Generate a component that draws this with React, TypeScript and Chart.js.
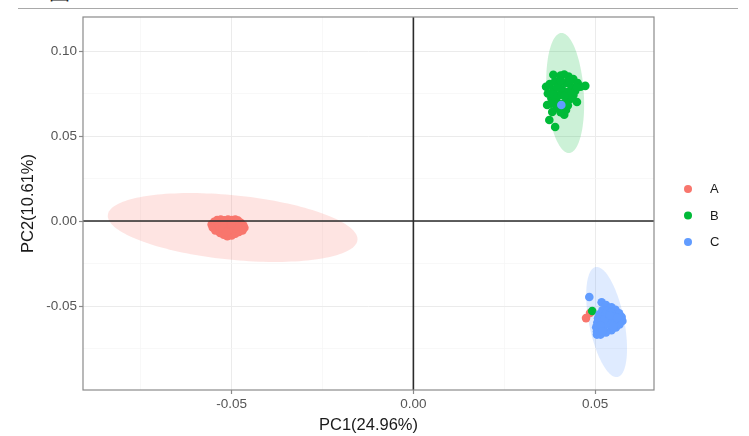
import React, { useEffect, useRef } from 'react';
import { Chart, registerables } from 'chart.js';

Chart.register(...registerables);

// ---- data ----
const groups = ['A', 'B', 'C'];
const groupColors = ['#F8766D', '#00BA38', '#619CFF'];

const aX = [-0.0555, -0.0548, -0.054, -0.053, -0.052, -0.051, -0.05, -0.049, -0.0482, -0.0475, -0.0468, -0.0465, -0.047, -0.048, -0.049, -0.05, -0.0512, -0.0522, -0.0532, -0.0545, -0.0552, -0.0535, -0.052, -0.0505, -0.0495, -0.051, -0.0525, -0.0485, -0.05, -0.0515, 0.0475, 0.0486];
const aY = [-0.002, -0.0005, 0.0005, 0.0008, 0.0004, 0.0009, 0.0006, 0.0008, 0.0002, -0.001, -0.0025, -0.004, -0.0055, -0.0065, -0.0075, -0.0085, -0.009, -0.008, -0.007, -0.0055, -0.0038, -0.003, -0.002, -0.003, -0.0045, -0.0055, -0.0045, -0.003, -0.0015, -0.0065, -0.0571, -0.0541];

const bX = [0.0385, 0.0405, 0.0415, 0.0427, 0.044, 0.0452, 0.0473, 0.046, 0.0365, 0.0375, 0.039, 0.04, 0.042, 0.0435, 0.0445, 0.044, 0.0432, 0.042, 0.041, 0.0395, 0.038, 0.037, 0.0385, 0.041, 0.0425, 0.04, 0.0368, 0.0382, 0.0374, 0.039, 0.042, 0.045, 0.0395, 0.0415, 0.0405, 0.0395, 0.0405, 0.043, 0.045, 0.0415, 0.0385, 0.0425, 0.038, 0.0492];
const bY = [0.086, 0.0855, 0.0862, 0.085, 0.0835, 0.0812, 0.0795, 0.079, 0.079, 0.0805, 0.0822, 0.08, 0.0812, 0.079, 0.0765, 0.074, 0.0718, 0.07, 0.0688, 0.07, 0.0722, 0.075, 0.077, 0.077, 0.0758, 0.074, 0.0682, 0.0641, 0.0594, 0.0553, 0.0653, 0.07, 0.0665, 0.0625, 0.064, 0.0785, 0.0825, 0.0825, 0.0785, 0.0735, 0.0745, 0.068, 0.069, -0.0529];

const cX = [0.0484, 0.0407, 0.0518, 0.053, 0.0545, 0.0556, 0.0566, 0.0573, 0.0575, 0.0567, 0.0557, 0.0545, 0.053, 0.0515, 0.0505, 0.0503, 0.0506, 0.0508, 0.0512, 0.052, 0.0528, 0.0537, 0.0548, 0.0542, 0.0526, 0.0518, 0.0552, 0.0533, 0.0543, 0.0522, 0.0505, 0.0535, 0.055, 0.056, 0.0525, 0.0515, 0.054, 0.052];
const cY = [-0.0447, 0.0682, -0.0478, -0.0495, -0.0508, -0.0522, -0.0543, -0.0565, -0.0588, -0.0608, -0.0626, -0.0642, -0.0655, -0.0668, -0.065, -0.0625, -0.0598, -0.0572, -0.0548, -0.0525, -0.0556, -0.0577, -0.056, -0.0602, -0.0612, -0.059, -0.0587, -0.053, -0.0538, -0.0636, -0.0668, -0.0605, -0.062, -0.057, -0.058, -0.0615, -0.0555, -0.065];

// confidence ellipses (data units): centre, major semi-axis vector, minor semi-axis vector
const ellipseCenterX = [-0.04973, 0.04176, 0.05316];
const ellipseCenterY = [-0.00382, 0.07529, -0.05941];
const ellipseMajorX = [0.03434, -0.0011, -0.00302];
const ellipseMajorY = [-0.00735, 0.0353, 0.03235];
const ellipseMinorX = [-0.00088, 0.0051, 0.00474];
const ellipseMinorY = [-0.01888, 0.00073, 0.00203];

const xRange = [-0.0909, 0.0662];
const yRange = [-0.0994, 0.12];
const xTickValues = [-0.075, -0.05, -0.025, 0, 0.025, 0.05];
const xTickLabels = ['', '-0.05', '', '0.00', '', '0.05'];
const yTickValues = [-0.075, -0.05, -0.025, 0, 0.025, 0.05, 0.075, 0.1];
const yTickLabels = ['', '-0.05', '', '0.00', '', '0.05', '', '0.10'];
const xTitle = 'PC1(24.96%)';
const yTitle = 'PC2(10.61%)';

const seriesX = [aX, bX, cX];
const seriesY = [aY, bY, cY];

const FONT = "'Liberation Sans', Arial, Helvetica, sans-serif";

function hexA(hex: string, a: number) {
  const n = parseInt(hex.slice(1), 16);
  return `rgba(${(n >> 16) & 255},${(n >> 8) & 255},${n & 255},${a})`;
}

const ellipsePlugin = {
  id: 'ellipses',
  beforeDatasetsDraw(chart: any) {
    const { ctx, chartArea, scales } = chart;
    const xs = scales.x, ys = scales.y;
    ctx.save();
    ctx.beginPath();
    ctx.rect(chartArea.left, chartArea.top, chartArea.right - chartArea.left, chartArea.bottom - chartArea.top);
    ctx.clip();
    for (let i = 0; i < groups.length; i++) {
      ctx.beginPath();
      const N = 160;
      for (let k = 0; k <= N; k++) {
        const t = (k / N) * Math.PI * 2;
        const vx = ellipseCenterX[i] + ellipseMajorX[i] * Math.cos(t) + ellipseMinorX[i] * Math.sin(t);
        const vy = ellipseCenterY[i] + ellipseMajorY[i] * Math.cos(t) + ellipseMinorY[i] * Math.sin(t);
        const px = xs.getPixelForValue(vx);
        const py = ys.getPixelForValue(vy);
        if (k === 0) ctx.moveTo(px, py); else ctx.lineTo(px, py);
      }
      ctx.closePath();
      ctx.fillStyle = hexA(groupColors[i], 0.2);
      ctx.fill();
    }
    ctx.restore();
  },
  afterDatasetsDraw(chart: any) {
    const { ctx, chartArea, scales } = chart;
    const x0 = scales.x.getPixelForValue(0);
    const y0 = scales.y.getPixelForValue(0);
    ctx.save();
    ctx.strokeStyle = '#2b2b2b';
    ctx.lineWidth = 1.6;
    ctx.beginPath();
    ctx.moveTo(chartArea.left, y0);
    ctx.lineTo(chartArea.right, y0);
    ctx.moveTo(x0, chartArea.top);
    ctx.lineTo(x0, chartArea.bottom);
    ctx.stroke();
    ctx.strokeStyle = '#8a8a8a';
    ctx.lineWidth = 1.2;
    ctx.strokeRect(chartArea.left, chartArea.top, chartArea.right - chartArea.left, chartArea.bottom - chartArea.top);
    // legend
    const lx = chartArea.right + 34;
    const ly = 189;
    ctx.font = `13px ${FONT}`;
    ctx.textBaseline = 'middle';
    ctx.textAlign = 'left';
    chart.data.datasets.forEach((ds: any, i: number) => {
      const y = ly + i * 26.5;
      ctx.beginPath();
      ctx.arc(lx, y, 4, 0, Math.PI * 2);
      ctx.fillStyle = ds.backgroundColor;
      ctx.fill();
      ctx.fillStyle = '#1a1a1a';
      ctx.fillText(ds.label, lx + 22, y + 0.5);
    });
    ctx.restore();
  },
};

export default function App() {
  const ref = useRef<HTMLCanvasElement | null>(null);
  useEffect(() => {
    document.body.style.margin = '0';
    if (!ref.current) return;
    const datasets = groups.map((g, i) => ({
      label: g,
      data: seriesX[i].map((x, j) => ({ x, y: seriesY[i][j] })),
      backgroundColor: groupColors[i],
      borderWidth: 0,
      pointRadius: 4.3,
      pointHoverRadius: 4.3,
      order: groups.length - 1 - i,
    }));
    const isMajor = (vals: number[], labels: string[], v: number) => {
      const idx = vals.findIndex((t) => Math.abs(t - v) < 1e-9);
      return idx >= 0 && labels[idx] !== '';
    };
    const labelFor = (vals: number[], labels: string[], v: number) => {
      const idx = vals.findIndex((t) => Math.abs(t - v) < 1e-9);
      return idx >= 0 ? labels[idx] : '';
    };
    const chart = new Chart(ref.current, {
      type: 'scatter',
      data: { datasets },
      plugins: [ellipsePlugin],
      options: {
        animation: false,
        responsive: false,
        devicePixelRatio: 1,
        layout: { padding: { top: 17, right: 95, left: 0, bottom: 0 } },
        plugins: { legend: { display: false }, tooltip: { enabled: false } },
        scales: {
          x: {
            type: 'linear',
            min: xRange[0],
            max: xRange[1],
            afterBuildTicks: (s: any) => { s.ticks = xTickValues.map((v) => ({ value: v })); },
            afterFit: (s: any) => { s.height = 46; },
            border: { display: false },
            grid: {
              color: (c: any) => (isMajor(xTickValues, xTickLabels, c.tick?.value) ? '#ebebeb' : '#f5f5f5'),
              lineWidth: (c: any) => (isMajor(xTickValues, xTickLabels, c.tick?.value) ? 1 : 0.7),
              tickColor: (c: any) => (isMajor(xTickValues, xTickLabels, c.tick?.value) ? '#8a8a8a' : 'rgba(0,0,0,0)'),
              tickLength: 4,
              tickWidth: 1.2,
            },
            ticks: {
              autoSkip: false,
              maxRotation: 0,
              padding: 2,
              color: '#555555',
              font: { family: FONT, size: 13.5 },
              callback: (v: any) => labelFor(xTickValues, xTickLabels, Number(v)),
            },
            title: {
              display: true,
              text: xTitle,
              color: '#1a1a1a',
              font: { family: FONT, size: 16.5 },
              padding: { top: 0, bottom: 1 },
            },
          },
          y: {
            type: 'linear',
            min: yRange[0],
            max: yRange[1],
            afterBuildTicks: (s: any) => { s.ticks = yTickValues.map((v) => ({ value: v })); },
            afterFit: (s: any) => { s.width = 83; },
            border: { display: false },
            grid: {
              color: (c: any) => (isMajor(yTickValues, yTickLabels, c.tick?.value) ? '#ebebeb' : '#f5f5f5'),
              lineWidth: (c: any) => (isMajor(yTickValues, yTickLabels, c.tick?.value) ? 1 : 0.7),
              tickColor: (c: any) => (isMajor(yTickValues, yTickLabels, c.tick?.value) ? '#8a8a8a' : 'rgba(0,0,0,0)'),
              tickLength: 4,
              tickWidth: 1.2,
            },
            ticks: {
              autoSkip: false,
              padding: 2,
              color: '#555555',
              font: { family: FONT, size: 13.5 },
              callback: (v: any) => labelFor(yTickValues, yTickLabels, Number(v)),
            },
            title: {
              display: true,
              text: yTitle,
              color: '#1a1a1a',
              font: { family: FONT, size: 16.5 },
              padding: { top: 19, bottom: 0 },
            },
          },
        },
      } as any,
    });
    return () => chart.destroy();
  }, []);

  return (
    <div style={{ position: 'relative', width: 749, height: 436, background: '#ffffff', overflow: 'hidden' }}>
      <span
        style={{
          position: 'absolute', left: 49, top: -20.5, fontSize: 21, lineHeight: '21px',
          fontFamily: "'Noto Sans CJK SC', sans-serif", color: '#222',
        }}
      >图</span>
      <div style={{ position: 'absolute', left: 18, top: 8, width: 720, height: 1, background: '#a9a9a9' }} />
      <canvas ref={ref} width={749} height={436} style={{ position: 'absolute', left: 0, top: 0 }} />
    </div>
  );
}
